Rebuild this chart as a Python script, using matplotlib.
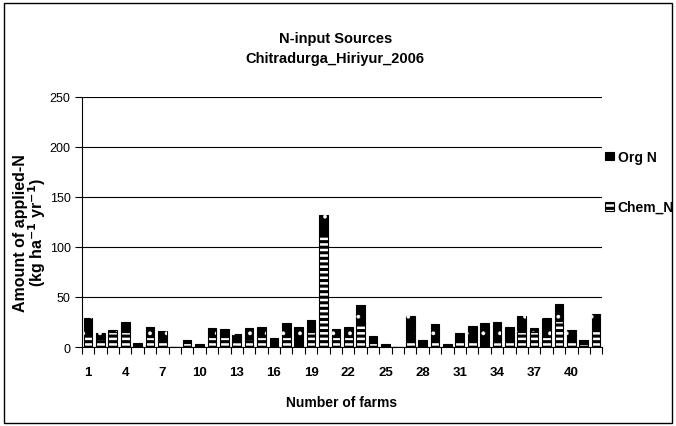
import numpy as np
import matplotlib
matplotlib.use('Agg')
import matplotlib.pyplot as plt

plt.rcParams.update({
    'font.family': ['Liberation Sans', 'DejaVu Sans'],
    'font.size': 9,
    'hatch.linewidth': 2.2,
})

# farm-level N inputs (kg/ha/yr), farms 1..42
farms = np.arange(1, 43)
chem_n = [11, 8, 15, 15, 1, 10, 6, 0, 4, 2,
          10, 10, 5, 8, 10, 0, 10, 0, 15, 113,
          10, 10, 22, 4, 2, 0, 6, 2, 6, 1,
          6, 6, 0, 5, 6, 15, 15, 10, 26, 6,
          3, 16]
total_n = [28.5, 14, 17, 25, 4.5, 20, 16, 0, 6.5, 3.3,
           19, 17.5, 13, 19, 20, 9.3, 24, 20, 27, 132,
           17.5, 20, 42, 10.5, 3, 0, 31, 6.5, 22.5, 3,
           14, 21, 24, 25, 20, 31, 18.5, 29, 42.5, 17,
           6.5, 33]
org_n = [t - c for t, c in zip(total_n, chem_n)]
label_farms = farms[::3]

fig = plt.figure(figsize=(6.76, 4.27), dpi=100)
ax = fig.add_axes([0.121, 0.185, 0.770, 0.586])

x = np.arange(len(farms))
ax.bar(x, chem_n, width=0.7, facecolor='white', edgecolor='black',
       hatch='---', linewidth=0.8, label='Chem_N', zorder=3)
ax.bar(x, org_n, bottom=chem_n, width=0.7, facecolor='black',
       edgecolor='black', linewidth=0.8, label='Org N', zorder=3)
# sparse white speckles on the organic part
plt.rcParams['hatch.linewidth'] = 0.3
ax.bar(x, org_n, bottom=chem_n, width=0.7, fill=False, edgecolor='white',
       hatch='.', linewidth=0, zorder=4)
plt.rcParams['hatch.linewidth'] = 2.2

ax.set_xlim(-0.5, len(farms) - 0.5)
ax.set_ylim(0, 250)
ax.set_yticks(range(0, 251, 50))
ax.yaxis.grid(True, color='black', linewidth=0.8)
ax.set_axisbelow(True)
for s in ('top', 'right'):
    ax.spines[s].set_visible(False)
ax.spines['left'].set_linewidth(0.8)
ax.spines['bottom'].set_linewidth(0.8)

ax.set_xticks(x[::3])
ax.set_xticklabels([str(f) for f in label_farms], fontweight='bold',
                   fontsize=9.5)
ax.set_xticks(np.arange(-0.5, len(farms)), minor=True)
ax.tick_params(axis='x', which='major', length=0, pad=14)
ax.tick_params(axis='x', which='minor', length=5, width=0.8, direction='out')
ax.tick_params(axis='y', length=5, width=0.8, direction='out', pad=3)

ax.set_xlabel('Number of farms', fontsize=10, fontweight='bold', labelpad=12)
ax.set_ylabel('Amount of applied-N\n(kg ha$^{\\mathbf{-1}}$ yr$^{\\mathbf{-1}}$)',
              fontsize=11.5, fontweight='bold', linespacing=0.9)
ax.yaxis.set_label_coords(-0.064, 0.46)

fig.text(0.496, 0.908, 'N-input Sources', ha='center', va='center',
         fontsize=10.5, fontweight='bold')
fig.text(0.496, 0.862, 'Chitradurga_Hiriyur_2006', ha='center', va='center',
         fontsize=10.5, fontweight='bold')

h, l = ax.get_legend_handles_labels()
ax.legend(h[::-1], l[::-1], loc='upper left', bbox_to_anchor=(0.995, 0.81),
          frameon=False, handlelength=0.6, handleheight=0.6, handletextpad=0.3,
          borderaxespad=0, labelspacing=2.6, prop={'weight': 'bold', 'size': 10})

fig.add_artist(plt.Rectangle((0.006, 0.007), 0.988, 0.984, fill=False,
                             edgecolor='black', linewidth=1.0,
                             transform=fig.transFigure))

fig.savefig('out.png', dpi=100)
